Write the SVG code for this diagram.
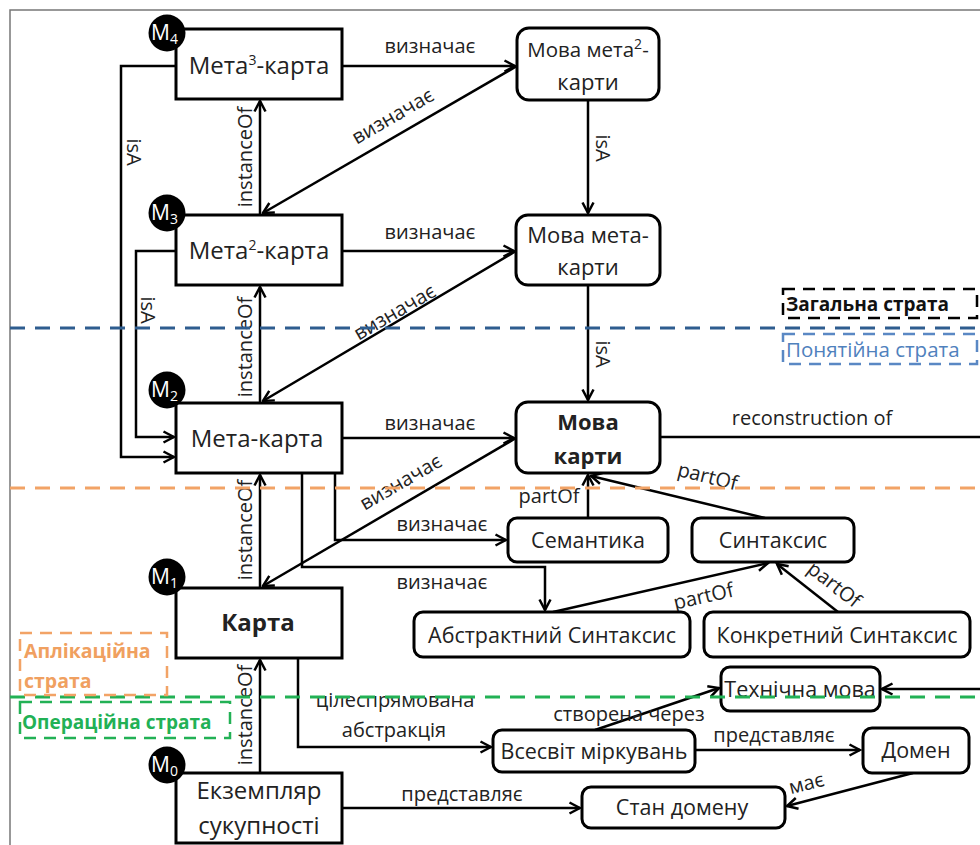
<svg xmlns="http://www.w3.org/2000/svg" width="980" height="845" viewBox="0 0 980 845">
<defs>
<marker id="ah" viewBox="0 0 14 14" refX="12.5" refY="7" markerWidth="14" markerHeight="14" markerUnits="userSpaceOnUse" orient="auto">
<path d="M2,1.5 L12.5,7 L2,12.5" fill="none" stroke="#000" stroke-width="2.5"/>
</marker>
</defs>
<style>
text{font-family:"Open Sans","Noto Sans","DejaVu Sans",sans-serif}
.box{fill:#fff;stroke:#000;stroke-width:3}
.nt{font-size:21.5px;fill:#222;text-anchor:middle}
.big{font-size:24px}
.mv{font-size:22px}
.b{font-weight:bold}
.lb{font-size:20px;fill:#222}
.m{text-anchor:middle}
.c{fill:none;stroke:#000;stroke-width:2.5;marker-end:url(#ah)}
.l{fill:none;stroke:#000;stroke-width:2.5}
.mc{fill:#000}
.mt{fill:#fff;font-size:21px}
.ms{font-size:14px}
.sl{fill:none;stroke-width:3;stroke-dasharray:15 10}
.sb{fill:none;stroke-width:2.5;stroke-dasharray:12 8}
</style>
<g id="frame"><path d="M10,845 V10 H980" fill="none" stroke="#777" stroke-width="1.5"/></g>

<g id="connectors">
<path class="c" d="M260,215 V101"/>
<path class="c" d="M260,403 V287"/>
<path class="c" d="M260,588 V475"/>
<path class="c" d="M260,773 V660"/>
<path class="c" d="M176,66 H121 V457 H174"/>
<path class="c" d="M176,251 H136 V437 H174"/>
<path class="c" d="M342,66 H515"/>
<path class="c" d="M342,251 H514"/>
<path class="c" d="M342,438 H514"/>
<path class="c" d="M517,66 L263,213"/>
<path class="c" d="M516,251 L263,401"/>
<path class="c" d="M516,438 L263,586"/>
<path class="c" d="M588,100 V213"/>
<path class="c" d="M588,285 V400"/>
<path class="c" d="M335,473 V540 H506"/>
<path class="c" d="M302,473 V567 H545 V610"/>
<path class="l" d="M660,437 H980"/>
<path class="c" d="M588,518 V475"/>
<path class="c" d="M765,518 L591,476"/>
<path class="c" d="M553,612 L768,563"/>
<path class="c" d="M838,612 L777,564"/>
<path class="c" d="M298,658 V747 H491"/>
<path class="c" d="M595,730 L719,688"/>
<path class="c" d="M695,750 H860"/>
<path class="c" d="M913,773 L787,806"/>
<path class="c" d="M342,808 H580"/>
<path class="c" d="M980,689 H882"/>

<text class="lb m" x="430" y="53">визначає</text>
<text class="lb m" x="430" y="239">визначає</text>
<text class="lb m" x="430" y="430">визначає</text>
<text class="lb m" x="442" y="531">визначає</text>
<text class="lb m" x="442" y="589">визначає</text>
<text class="lb m" transform="translate(396,122) rotate(-30)">визначає</text>
<text class="lb m" transform="translate(398,318) rotate(-30)">визначає</text>
<text class="lb m" transform="translate(404,488) rotate(-30)">визначає</text>
<text class="lb m" transform="translate(252,157) rotate(-90)">instanceOf</text>
<text class="lb m" transform="translate(252,347) rotate(-90)">instanceOf</text>
<text class="lb m" transform="translate(252,530) rotate(-90)">instanceOf</text>
<text class="lb m" transform="translate(252,715) rotate(-90)">instanceOf</text>
<text class="lb m" transform="translate(127,152) rotate(90)">isA</text>
<text class="lb m" transform="translate(141,310) rotate(90)">isA</text>
<text class="lb m" transform="translate(596,148) rotate(90)">isA</text>
<text class="lb m" transform="translate(596,354) rotate(90)">isA</text>
<text class="lb m" x="812" y="425">reconstruction of</text>
<text class="lb m" x="549" y="503">partOf</text>
<text class="lb m" transform="translate(706,483) rotate(14)">partOf</text>
<text class="lb m" transform="translate(705,603) rotate(-13)">partOf</text>
<text class="lb m" transform="translate(830,590) rotate(38)">partOf</text>
<text class="lb m" x="395" y="707">цілеспрямована</text>
<text class="lb m" x="394" y="737">абстракція</text>
<text class="lb m" x="629" y="721">створена через</text>
<text class="lb m" x="774" y="742">представляє</text>
<text class="lb m" x="462" y="801">представляє</text>
<text class="lb m" transform="translate(808,790) rotate(-14)">має</text>
</g>

<g id="n-meta3">
<rect class="box" x="176" y="29" width="166" height="70"/>
<text class="nt big" x="259" y="74">Мета<tspan class="ms" dy="-9">3</tspan><tspan dy="9">-карта</tspan></text>
<circle class="mc" cx="167" cy="33" r="18.5"/>
<text class="mt" x="151" y="40">M<tspan class="ms" dy="4">4</tspan></text>
</g>
<g id="n-meta2">
<rect class="box" x="176" y="215" width="166" height="70"/>
<text class="nt big" x="259" y="259">Мета<tspan class="ms" dy="-9">2</tspan><tspan dy="9">-карта</tspan></text>
<circle class="mc" cx="167" cy="213" r="18.5"/>
<text class="mt" x="151" y="220">M<tspan class="ms" dy="4">3</tspan></text>
</g>
<g id="n-meta">
<rect class="box" x="176" y="403" width="166" height="70"/>
<text class="nt big" x="257" y="447">Мета-карта</text>
<circle class="mc" cx="167" cy="390" r="18.5"/>
<text class="mt" x="151" y="397">M<tspan class="ms" dy="4">2</tspan></text>
</g>
<g id="n-karta">
<rect class="box" x="176" y="588" width="166" height="70"/>
<text class="nt big b" x="258" y="631">Карта</text>
<circle class="mc" cx="167" cy="577" r="18.5"/>
<text class="mt" x="151" y="584">M<tspan class="ms" dy="4">1</tspan></text>
</g>
<g id="n-ekz">
<rect class="box" x="176" y="773" width="166" height="70"/>
<text class="nt big" x="259" y="799">Екземпляр</text>
<text class="nt big" x="259" y="834">сукупності</text>
<circle class="mc" cx="167" cy="765" r="18.5"/>
<text class="mt" x="151" y="772">M<tspan class="ms" dy="4">0</tspan></text>
</g>

<g id="n-mova-meta2">
<rect class="box" x="517" y="28" width="142" height="72" rx="12"/>
<text class="nt" x="588" y="57" style="font-size:20.5px">Мова мета<tspan class="ms" dy="-8">2</tspan><tspan dy="8">-</tspan></text>
<text class="nt mv" x="588" y="90">карти</text>
</g>
<g id="n-mova-meta">
<rect class="box" x="516" y="215" width="144" height="70" rx="12"/>
<text class="nt mv" x="588" y="243">Мова мета-</text>
<text class="nt mv" x="588" y="275">карти</text>
</g>
<g id="n-mova">
<rect class="box" x="516" y="402" width="144" height="71" rx="12"/>
<text class="nt mv b" x="588" y="430">Мова</text>
<text class="nt mv b" x="588" y="464">карти</text>
</g>
<g id="n-sem">
<rect class="box" x="508" y="518" width="160" height="44" rx="9"/>
<text class="nt" x="588" y="548">Семантика</text>
</g>
<g id="n-syn">
<rect class="box" x="692" y="518" width="162" height="44" rx="9"/>
<text class="nt" x="773" y="548">Синтаксис</text>
</g>
<g id="n-abs">
<rect class="box" x="414" y="612" width="276" height="45" rx="9"/>
<text class="nt" x="552" y="643">Абстрактний Синтаксис</text>
</g>
<g id="n-kon">
<rect class="box" x="704" y="612" width="266" height="45" rx="9"/>
<text class="nt" x="837" y="643">Конкретний Синтаксис</text>
</g>
<g id="n-tech">
<rect class="box" x="721" y="667" width="159" height="44" rx="9"/>
<text class="nt" x="800" y="697">Технічна мова</text>
</g>
<g id="n-vses">
<rect class="box" x="493" y="730" width="202" height="42" rx="9"/>
<text class="nt" x="594" y="759">Всесвіт міркувань</text>
</g>
<g id="n-domen">
<rect class="box" x="863" y="728" width="106" height="45" rx="9"/>
<text class="nt" x="916" y="758">Домен</text>
</g>
<g id="n-stan">
<rect class="box" x="582" y="787" width="203" height="41" rx="9"/>
<text class="nt" x="682" y="815">Стан домену</text>
</g>

<g id="strata">
<path class="sl" d="M10,328 H980" stroke="#2e5d8f"/>
<path class="sl" d="M10,488 H980" stroke="#f2a366"/>
<path class="sl" d="M10,697 H980" stroke="#22b155"/>
<rect class="sb" x="783" y="289" width="194" height="29" stroke="#000"/>
<text x="786" y="311" style="font-size:19px;font-weight:bold;fill:#111">Загальна страта</text>
<rect class="sb" x="783" y="334" width="194" height="30" stroke="#5a88c4"/>
<text x="786" y="357" style="font-size:20.5px;fill:#4f81bd">Понятійна страта</text>
<rect class="sb" x="20" y="633" width="147" height="62" stroke="#f2a366"/>
<text x="24" y="658" style="font-size:19.5px;font-weight:bold;fill:#f0a060">Аплікаційна</text>
<text x="24" y="688" style="font-size:19.5px;font-weight:bold;fill:#f0a060">страта</text>
<rect class="sb" x="20" y="702" width="210" height="36" stroke="#22b155"/>
<text x="22" y="729" style="font-size:19px;font-weight:bold;fill:#22b155">Операційна страта</text>
</g>
</svg>
